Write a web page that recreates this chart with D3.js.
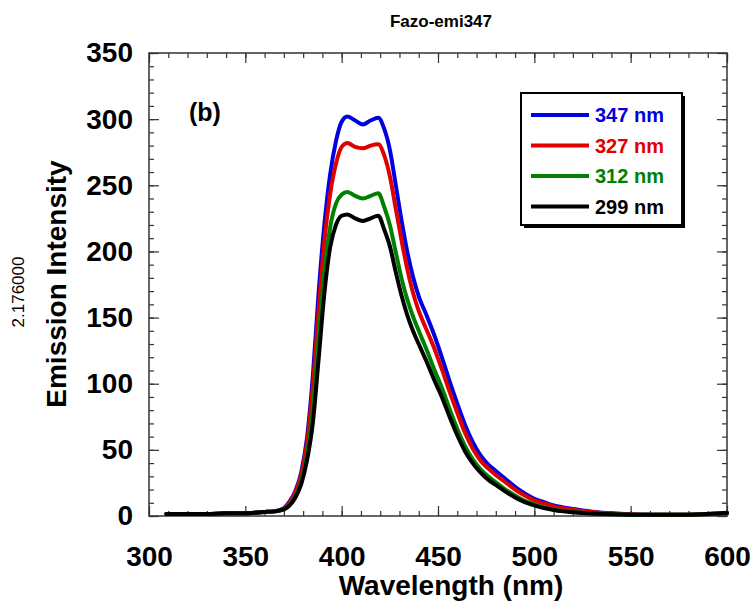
<!DOCTYPE html>
<html>
<head>
<meta charset="utf-8">
<script src="https://cdn.jsdelivr.net/npm/d3@7"></script>
<style>
body { margin: 0; background: #fff; }
text { font-family: "Liberation Sans", Arial, sans-serif; }
</style>
</head>
<body>
<div id="chart"></div>
<script>
// wavelength (nm)
var wavelengths = [309,320,330,340,350,355,360,365,370,373,376,379,382,385,388,391,394,397,400,403,407,411,415,419,422,425,428,431,434,437,440,444,448,452,456,460,464,468,472,476,480,485,490,495,500,505,510,515,520,525,530,540,550,560,570,580,590,600];

var em347 = [1.5,1.5,1.5,2,2,2.5,3,3.5,6,11,19,33,59,105,168,220,258,283,298,302,299,296,299,301,293,277,251,224,200,181,166,152,137,120,102,85,69,56,46,39,34,28,22,17,13,10.5,8,6.5,5.3,4.2,3.3,2,1.3,1,1,1,1.5,2];
var em327 = [1.5,1.5,1.5,2,2,2.5,3,3.5,5.5,10,18,31,55,97,155,207,243,266,279,282,279,278,280,281,273,257,233,209,187,169,155,141,127,111,94,78,63,51,42,36,31,25.5,20,15.5,11.8,9.5,7.3,5.8,4.7,3.8,3,1.8,1.2,1,1,1,1.5,2];
var em312 = [1.5,1.5,1.5,2,2,2.5,3,3.5,5,8.5,15,26,46,80,134,184,218,236,243,245,242,240,242,244,234,220,200,180,164,151,140,126,111,97,81,66,53,43,35.5,30,25.5,20,15.5,11.5,8.8,6.5,4.9,3.8,3,2.4,1.9,1.4,1,1,1,1,1.5,2];
var em299 = [1.5,1.5,1.5,2,2,2.5,3,3.5,5,8,14,24,42,70,118,168,203,220,227,228,225,223,225,227,217,204,185,167,152,140,130,117,103,90,75,61,49,40,33,27.5,23.5,18.5,14,10.5,8,6,4.5,3.5,2.8,2.2,1.8,1.3,1,1,1,1,1.5,2.5];

var seriesNames = ["347 nm", "327 nm", "312 nm", "299 nm"];
var seriesColors = ["#0000e0", "#e00000", "#008000", "#000000"];
var seriesValues = [em347, em327, em312, em299];

var xTicks = [300,350,400,450,500,550,600];
var yTicks = [0,50,100,150,200,250,300,350];

var W = 752, H = 604;
var pLeft = 149, pRight = 727, pTop = 53, pBottom = 516;

var svg = d3.select("#chart").append("svg")
    .attr("width", W)
    .attr("height", H);

var x = d3.scaleLinear().domain([300, 600]).range([pLeft, pRight]);
var y = d3.scaleLinear().domain([0, 350]).range([pBottom, pTop]);

// minor ticks (no labels)
var minorX = d3.range(300, 601, 10);
var minorY = d3.range(0, 351, 10);

function styleAxis(g) {
    g.select(".domain").remove();
    g.selectAll("line").attr("stroke", "#333").attr("stroke-width", 1.2);
}

svg.append("g").attr("transform", "translate(0," + pBottom + ")")
    .call(d3.axisBottom(x).tickValues(minorX).tickSize(-5).tickFormat(""))
    .call(styleAxis);
svg.append("g").attr("transform", "translate(0," + pTop + ")")
    .call(d3.axisTop(x).tickValues(minorX).tickSize(-5).tickFormat(""))
    .call(styleAxis);
svg.append("g").attr("transform", "translate(" + pLeft + ",0)")
    .call(d3.axisLeft(y).tickValues(minorY).tickSize(-5).tickFormat(""))
    .call(styleAxis);
svg.append("g").attr("transform", "translate(" + pRight + ",0)")
    .call(d3.axisRight(y).tickValues(minorY).tickSize(-5).tickFormat(""))
    .call(styleAxis);

// major ticks
var xAxis = svg.append("g").attr("transform", "translate(0," + pBottom + ")")
    .call(d3.axisBottom(x).tickValues(xTicks).tickSize(-10).tickPadding(30).tickFormat(d3.format("d")))
    .call(styleAxis);
svg.append("g").attr("transform", "translate(0," + pTop + ")")
    .call(d3.axisTop(x).tickValues(xTicks).tickSize(-10).tickFormat(""))
    .call(styleAxis);
var yAxis = svg.append("g").attr("transform", "translate(" + pLeft + ",0)")
    .call(d3.axisLeft(y).tickValues(yTicks).tickSize(-10).tickPadding(16).tickFormat(d3.format("d")))
    .call(styleAxis);
svg.append("g").attr("transform", "translate(" + pRight + ",0)")
    .call(d3.axisRight(y).tickValues(yTicks).tickSize(-10).tickFormat(""))
    .call(styleAxis);

xAxis.selectAll("text").attr("font-size", 28).attr("font-weight", "bold").attr("fill", "#000")
    .attr("font-family", "'Liberation Sans', Arial, sans-serif");
yAxis.selectAll("text").attr("font-size", 28).attr("font-weight", "bold").attr("fill", "#000")
    .attr("font-family", "'Liberation Sans', Arial, sans-serif");

// frame
svg.append("rect")
    .attr("x", pLeft).attr("y", pTop)
    .attr("width", pRight - pLeft).attr("height", pBottom - pTop)
    .attr("fill", "none").attr("stroke", "#333").attr("stroke-width", 1.5);

// curves
var line = d3.line()
    .x(function(d){ return x(d[0]); })
    .y(function(d){ return y(d[1]); })
    .curve(d3.curveMonotoneX);

seriesValues.forEach(function(vals, i){
    var pts = wavelengths.map(function(w, j){ return [w, vals[j]]; });
    svg.append("path")
        .datum(pts)
        .attr("d", line)
        .attr("fill", "none")
        .attr("stroke", seriesColors[i])
        .attr("stroke-width", 4)
        .attr("stroke-linejoin", "round")
        .attr("stroke-linecap", "round");
});

// legend
var lg = svg.append("g").attr("transform", "translate(521,93)");
lg.append("rect").attr("x", 3).attr("y", 3).attr("width", 161).attr("height", 132).attr("fill", "#000");
lg.append("rect").attr("x", 0).attr("y", 0).attr("width", 161).attr("height", 132)
    .attr("fill", "#fff").attr("stroke", "#000").attr("stroke-width", 2);
seriesNames.forEach(function(name, i){
    var ly = 22 + i * 30.5;
    lg.append("line").attr("x1", 10).attr("x2", 68).attr("y1", ly).attr("y2", ly)
        .attr("stroke", seriesColors[i]).attr("stroke-width", 4);
    lg.append("text").attr("x", 74).attr("y", ly + 7)
        .attr("font-size", 20).attr("font-weight", "bold")
        .attr("fill", seriesColors[i]).text(name);
});

// titles and labels
svg.append("text").attr("x", 441).attr("y", 27).attr("text-anchor", "middle")
    .attr("font-size", 17).attr("font-weight", "bold").text("Fazo-emi347");

svg.append("text").attr("x", 189).attr("y", 121)
    .attr("font-size", 25).attr("font-weight", "bold").text("(b)");

svg.append("text").attr("x", 451).attr("y", 595).attr("text-anchor", "middle")
    .attr("font-size", 28).attr("font-weight", "bold").text("Wavelength (nm)");

svg.append("text").attr("transform", "translate(66,284)rotate(-90)")
    .attr("text-anchor", "middle")
    .attr("font-size", 28).attr("font-weight", "bold").text("Emission Intensity");

svg.append("text").attr("transform", "translate(24,292)rotate(-90)")
    .attr("text-anchor", "middle")
    .attr("font-size", 17).text("2.176000");
</script>
</body>
</html>
